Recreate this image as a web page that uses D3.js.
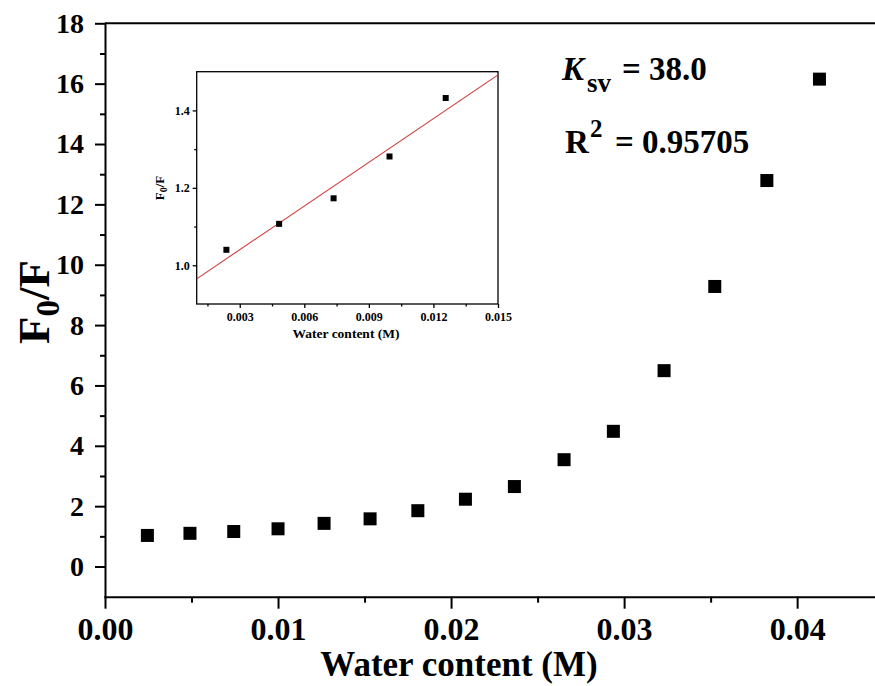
<!DOCTYPE html>
<html>
<head>
<meta charset="utf-8">
<script src="https://cdn.jsdelivr.net/npm/d3@7/dist/d3.min.js"></script>
<style>
  html, body { margin: 0; padding: 0; background: #fff; }
  svg { display: block; }
</style>
</head>
<body>
<svg id="chart" width="875" height="686"></svg>
<script>
// ---------- main data ----------
const waterContent = [0.00245, 0.00491, 0.00744, 0.0100, 0.01266, 0.01532, 0.01808, 0.02083, 0.02366, 0.02653, 0.02938, 0.03231, 0.03524, 0.03825, 0.04129];
const f0OverF      = [1.03, 1.10, 1.16, 1.25, 1.43, 1.58, 1.85, 2.23, 2.65, 3.54, 4.48, 6.49, 9.28, 12.79, 16.15];
const xTicks = [0.00, 0.01, 0.02, 0.03, 0.04];
const xMinorTicks = [0.005, 0.015, 0.025, 0.035];
const yTicks = [0, 2, 4, 6, 8, 10, 12, 14, 16, 18];
const yMinorTicks = [1, 3, 5, 7, 9, 11, 13, 15, 17];

// ---------- inset data ----------
const insetWater = [0.00238, 0.00483, 0.00736, 0.00996, 0.01257];
const insetF0F   = [1.040, 1.107, 1.173, 1.281, 1.432];
const insetXTicks = [0.003, 0.006, 0.009, 0.012, 0.015];
const insetXMinor = [0.0015, 0.0045, 0.0075, 0.0105, 0.0135];
const insetYTicks = [1.0, 1.2, 1.4];
const insetYMinor = [1.1, 1.3];
const kSvLabel = "38.0";
const r2Label = "0.95705";

const FONT = "'Liberation Serif', 'Times New Roman', Tinos, 'DejaVu Serif', serif";
const svg = d3.select("#chart");

// ---------- main scales ----------
const x = d3.scaleLinear().domain([0, 0.0445]).range([105, 875]);
const y = d3.scaleLinear().domain([-1, 18]).range([596.7, 23.3]);

const axisW = 2;
// top border
svg.append("line").attr("x1", x(0)).attr("x2", 875).attr("y1", y(18)).attr("y2", y(18))
  .attr("stroke", "#000").attr("stroke-width", axisW);

// y axis
const yAxis = svg.append("g").attr("transform", `translate(${x(0)},0)`)
  .call(d3.axisLeft(y).tickValues(yTicks).tickSize(10).tickSizeOuter(0).tickPadding(11).tickFormat(d3.format("d")));
yAxis.select(".domain").attr("stroke-width", axisW);
yAxis.selectAll(".tick line").attr("stroke-width", axisW);
yAxis.selectAll(".tick text").style("font-size", "28px");
svg.append("g").attr("transform", `translate(${x(0)},0)`)
  .call(d3.axisLeft(y).tickValues(yMinorTicks).tickSize(5).tickFormat(""))
  .call(g => g.select(".domain").remove())
  .selectAll(".tick line").attr("stroke-width", axisW);

// x axis
const xAxis = svg.append("g").attr("transform", `translate(0,${y(-1)})`)
  .call(d3.axisBottom(x).tickValues(xTicks).tickSize(12).tickSizeOuter(0).tickPadding(9).tickFormat(d3.format(".2f")));
xAxis.select(".domain").attr("stroke-width", axisW);
xAxis.selectAll(".tick line").attr("stroke-width", axisW);
xAxis.selectAll(".tick text").style("font-size", "32px");
svg.append("g").attr("transform", `translate(0,${y(-1)})`)
  .call(d3.axisBottom(x).tickValues(xMinorTicks).tickSize(6).tickFormat(""))
  .call(g => g.select(".domain").remove())
  .selectAll(".tick line").attr("stroke-width", axisW);
svg.selectAll(".domain").attr("stroke-linecap", "square");

// axis titles
svg.append("text").attr("x", 459).attr("y", 676).attr("text-anchor", "middle")
  .style("font-size", "35px").text("Water content (M)");
const yt = svg.append("text").attr("transform", "translate(49,302) rotate(-90)")
  .attr("text-anchor", "middle").style("font-size", "45px");
yt.append("tspan").text("F");
yt.append("tspan").attr("dy", 10).style("font-size", "33px").text("0");
yt.append("tspan").attr("dy", -10).text("/F");

// main points
const ms = 13;
svg.append("g").selectAll("rect").data(waterContent.map((w, i) => [w, f0OverF[i]]))
  .join("rect")
  .attr("x", d => x(d[0]) - ms / 2).attr("y", d => y(d[1]) - ms / 2)
  .attr("width", ms).attr("height", ms).attr("fill", "#000");

// annotations
const k = svg.append("text").attr("y", 80).style("font-size", "33px");
k.append("tspan").attr("x", 562).style("font-style", "italic").text("K");
k.append("tspan").attr("x", 587).attr("dy", 12).style("font-size", "27px").text("sv");
k.append("tspan").attr("x", 622).attr("dy", -12).text("= " + kSvLabel);
const r = svg.append("text").attr("y", 153).style("font-size", "33px");
r.append("tspan").attr("x", 565).text("R");
r.append("tspan").attr("x", 590).attr("dy", -16).style("font-size", "25px").text("2");
r.append("tspan").attr("x", 615).attr("dy", 16).text("= " + r2Label);

// ---------- inset ----------
const ix = d3.scaleLinear().domain([0.001, 0.015]).range([196.7, 498]);
const iy = d3.scaleLinear().domain([0.9, 1.5]).range([304, 71.7]);
const iw = 1.3;
svg.append("rect").attr("x", ix(0.001)).attr("y", iy(1.5))
  .attr("width", ix(0.015) - ix(0.001)).attr("height", iy(0.9) - iy(1.5))
  .attr("fill", "none").attr("stroke", "#000").attr("stroke-width", iw);

const iya = svg.append("g").attr("transform", `translate(${ix(0.001)},0)`)
  .call(d3.axisLeft(iy).tickValues(insetYTicks).tickSize(4).tickSizeOuter(0).tickPadding(3).tickFormat(d3.format(".1f")));
iya.select(".domain").remove();
iya.selectAll(".tick line").attr("stroke-width", iw);
iya.selectAll(".tick text").style("font-size", "12px");
svg.append("g").attr("transform", `translate(${ix(0.001)},0)`)
  .call(d3.axisLeft(iy).tickValues(insetYMinor).tickSize(2.5).tickFormat(""))
  .call(g => g.select(".domain").remove())
  .selectAll(".tick line").attr("stroke-width", iw);

const ixa = svg.append("g").attr("transform", `translate(0,${iy(0.9)})`)
  .call(d3.axisBottom(ix).tickValues(insetXTicks).tickSize(4).tickSizeOuter(0).tickPadding(4).tickFormat(d3.format(".3f")));
ixa.select(".domain").remove();
ixa.selectAll(".tick line").attr("stroke-width", iw);
ixa.selectAll(".tick text").style("font-size", "12px");
svg.append("g").attr("transform", `translate(0,${iy(0.9)})`)
  .call(d3.axisBottom(ix).tickValues(insetXMinor).tickSize(2.5).tickFormat(""))
  .call(g => g.select(".domain").remove())
  .selectAll(".tick line").attr("stroke-width", iw);

svg.append("text").attr("x", 346).attr("y", 338).attr("text-anchor", "middle")
  .style("font-size", "13.5px").text("Water content (M)");
const iyt = svg.append("text").attr("transform", "translate(164,188) rotate(-90)")
  .attr("text-anchor", "middle").style("font-size", "13px");
iyt.append("tspan").text("F");
iyt.append("tspan").attr("dy", 3).style("font-size", "10px").text("0");
iyt.append("tspan").attr("dy", -3).text("/F");

// least-squares fit line from inset data
const mx = d3.mean(insetWater), my = d3.mean(insetF0F);
const slope = d3.sum(insetWater.map((w, i) => (w - mx) * (insetF0F[i] - my))) /
              d3.sum(insetWater.map(w => (w - mx) * (w - mx)));
const intercept = my - slope * mx;
const xs = ix.domain();
svg.append("defs").append("clipPath").attr("id", "iclip").append("rect")
  .attr("x", ix(0.001)).attr("y", iy(1.5)).attr("width", ix(0.015) - ix(0.001)).attr("height", iy(0.9) - iy(1.5));
svg.append("line").attr("clip-path", "url(#iclip)")
  .attr("x1", ix(xs[0])).attr("y1", iy(intercept + slope * xs[0]))
  .attr("x2", ix(xs[1])).attr("y2", iy(intercept + slope * xs[1]))
  .attr("stroke", "#d03a3a").attr("stroke-width", 1.1);

const ims = 6;
svg.append("g").selectAll("rect").data(insetWater.map((w, i) => [w, insetF0F[i]]))
  .join("rect")
  .attr("x", d => ix(d[0]) - ims / 2).attr("y", d => iy(d[1]) - ims / 2)
  .attr("width", ims).attr("height", ims).attr("fill", "#000");

// fonts: serif bold everywhere
svg.selectAll("g").attr("font-family", null);
svg.selectAll("text").style("font-family", FONT).style("font-weight", "bold").attr("fill", "#000");
</script>
</body>
</html>
